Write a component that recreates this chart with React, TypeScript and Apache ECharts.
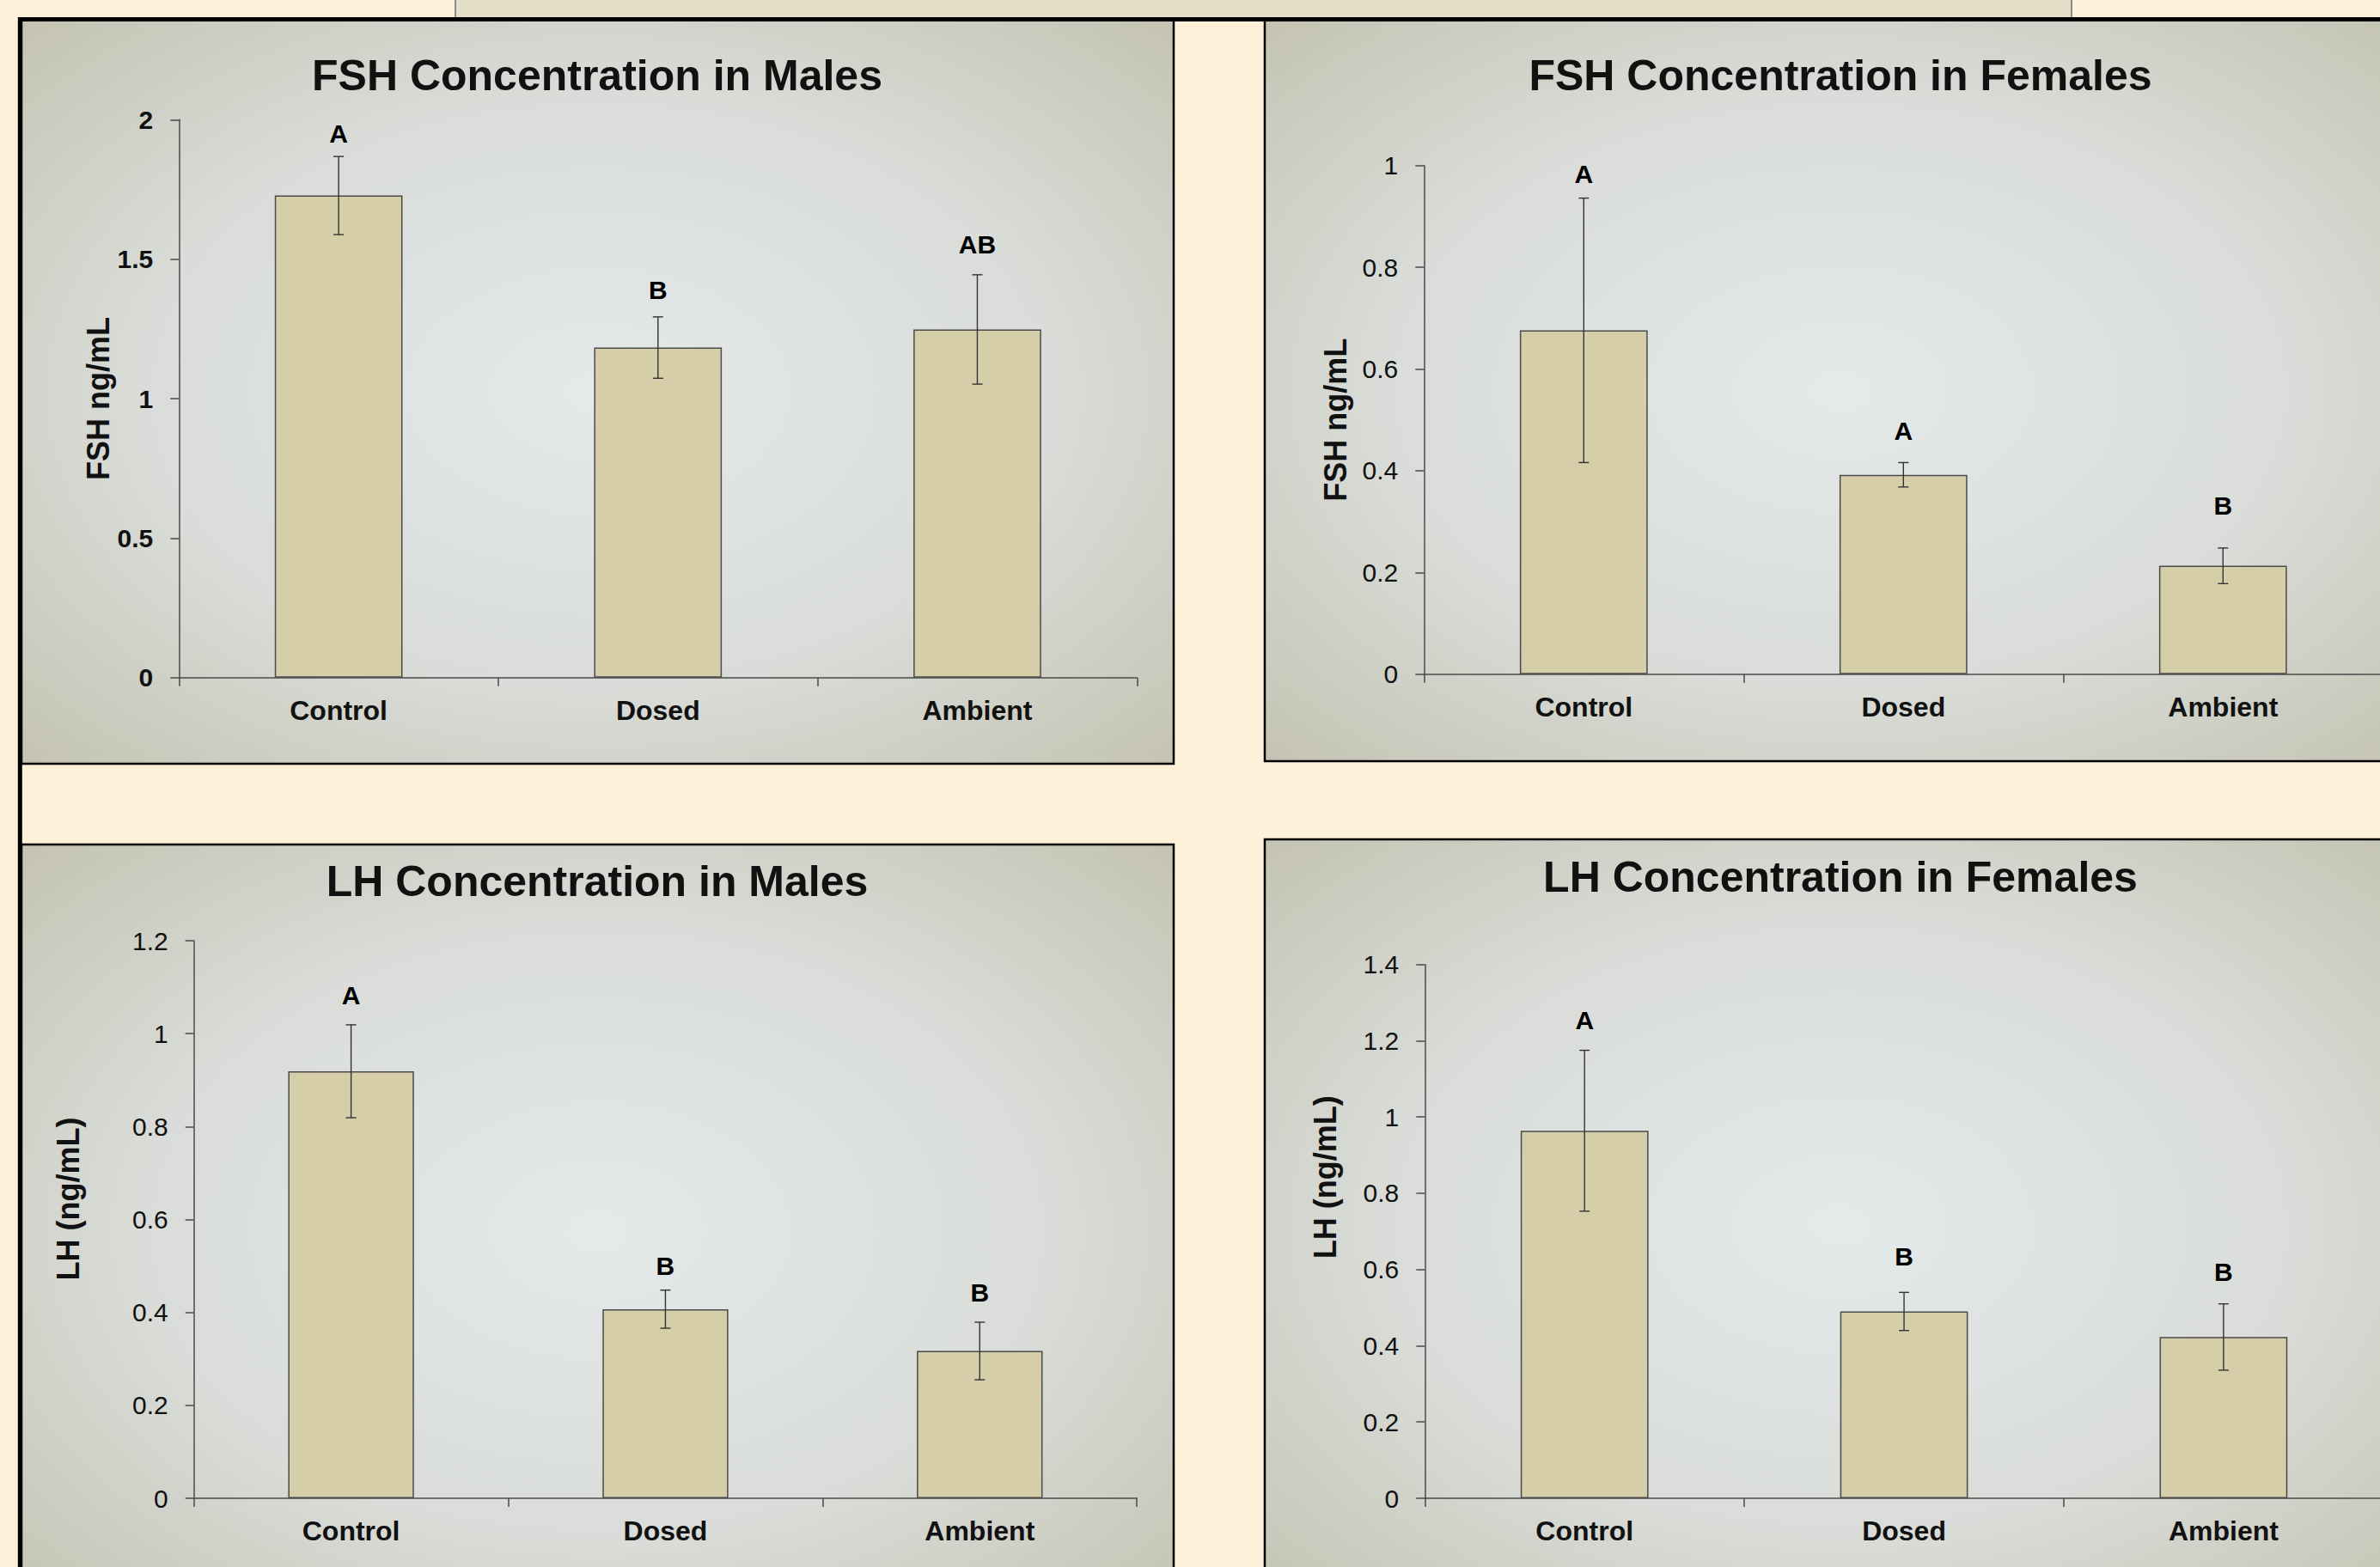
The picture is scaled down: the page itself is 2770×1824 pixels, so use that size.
import React, { useEffect, useRef } from "react";
import * as echarts from "echarts";

const categories = ["Control", "Dosed", "Ambient"];

const fshMaleMeans = [1.728, 1.183, 1.248];
const fshMaleErr = [0.14, 0.11, 0.196];
const fshMaleLetters = ["A", "B", "AB"];
const fshMaleLetterY = [1.949, 1.39, 1.553];

const fshFemaleMeans = [0.676, 0.392, 0.213];
const fshFemaleErr = [0.26, 0.024, 0.035];
const fshFemaleLetters = ["A", "A", "B"];
const fshFemaleLetterY = [0.983, 0.479, 0.332];

const lhMaleMeans = [0.919, 0.407, 0.317];
const lhMaleErr = [0.1, 0.041, 0.062];
const lhMaleLetters = ["A", "B", "B"];
const lhMaleLetterY = [1.082, 0.5, 0.442];

const lhFemaleMeans = [0.964, 0.49, 0.423];
const lhFemaleErr = [0.211, 0.05, 0.087];
const lhFemaleLetters = ["A", "B", "B"];
const lhFemaleLetterY = [1.255, 0.634, 0.594];

const titles = [
  "FSH Concentration in Males",
  "FSH Concentration in Females",
  "LH Concentration in Males",
  "LH Concentration in Females",
];
const yNames = ["FSH ng/mL", "FSH ng/mL", "LH (ng/mL)", "LH (ng/mL)"];
const yMax = [2, 1, 1.2, 1.4];
const yInterval = [0.5, 0.2, 0.2, 0.2];

const FONT = "'Liberation Sans', Arial, Helvetica, sans-serif";

export default function App() {
  const ref = useRef<HTMLDivElement>(null);

  useEffect(() => {
    if (!ref.current) return;
    const chart = echarts.init(ref.current, null, { renderer: "svg" });

    const panels = [
      { means: fshMaleMeans, err: fshMaleErr, letters: fshMaleLetters, ly: fshMaleLetterY },
      { means: fshFemaleMeans, err: fshFemaleErr, letters: fshFemaleLetters, ly: fshFemaleLetterY },
      { means: lhMaleMeans, err: lhMaleErr, letters: lhMaleLetters, ly: lhMaleLetterY },
      { means: lhFemaleMeans, err: lhFemaleErr, letters: lhFemaleLetters, ly: lhFemaleLetterY },
    ];

    const grids = [
      { left: 208.3, top: 139.3, width: 1115, height: 649.4 },
      { left: 1657.3, top: 192.7, width: 1116, height: 592 },
      { left: 225.7, top: 1095, width: 1097.5, height: 649 },
      { left: 1658.3, top: 1122.7, width: 1115.5, height: 621.3 },
    ];
    const titlePos = [
      [695, 88],
      [2142, 88],
      [695, 1026],
      [2142, 1021],
    ];
    const nameGaps = [70, 85, 128, 98];
    const namePadLeft = [0, 0, 48, 126];
    const boldTicks = [true, false, false, false];

    const panelFill = () => ({
      type: "radial",
      x: 0.5,
      y: 0.5,
      r: 0.72,
      colorStops: [
        { offset: 0, color: "#e4e9ea" },
        { offset: 0.55, color: "#d9dcd8" },
        { offset: 1, color: "#c3c2b1" },
      ],
    });

    const axisColor = "#4a4a4a";

    const series: any[] = [];
    panels.forEach((p, i) => {
      series.push({
        type: "bar",
        xAxisIndex: i,
        yAxisIndex: i,
        data: p.means,
        barWidth: "40%",
        itemStyle: { color: "#d6cea8", borderColor: "#4a4a4a", borderWidth: 1.5 },
        z: 2,
      });
      series.push({
        type: "custom",
        xAxisIndex: i,
        yAxisIndex: i,
        data: p.means.map((m, k) => [k, m - p.err[k], m + p.err[k]]),
        encode: { x: 0, y: [1, 2] },
        z: 3,
        renderItem: (params: any, api: any) => {
          const x = api.value(0);
          const lo = api.coord([x, api.value(1)]);
          const hi = api.coord([x, api.value(2)]);
          const w = 6;
          const style = { stroke: "#333333", lineWidth: 1.4 };
          return {
            type: "group",
            children: [
              { type: "line", shape: { x1: hi[0], y1: hi[1], x2: lo[0], y2: lo[1] }, style },
              { type: "line", shape: { x1: hi[0] - w, y1: hi[1], x2: hi[0] + w, y2: hi[1] }, style },
              { type: "line", shape: { x1: lo[0] - w, y1: lo[1], x2: lo[0] + w, y2: lo[1] }, style },
            ],
          };
        },
      });
      series.push({
        type: "scatter",
        xAxisIndex: i,
        yAxisIndex: i,
        symbolSize: 0,
        data: p.ly.map((v, k) => [k, v]),
        z: 4,
        itemStyle: { opacity: 1 },
        label: {
          show: true,
          position: "inside",
          formatter: (d: any) => p.letters[d.dataIndex],
          fontFamily: FONT,
          fontWeight: "bold",
          fontSize: 30,
          color: "#000000",
          opacity: 1,
          textBorderWidth: 0,
          textBorderColor: "transparent",
        },
      });
    });

    const option: any = {
      animation: false,
      backgroundColor: "#fff1d9",
      title: titles.map((t, i) => ({
        text: t,
        left: titlePos[i][0],
        top: titlePos[i][1] - 25,
        textAlign: "center",
        padding: 0,
        textStyle: { fontFamily: FONT, fontWeight: "bold", fontSize: 50, color: "#111111" },
      })),
      grid: grids.map((g) => ({ ...g, containLabel: false, outerBoundsMode: "none" })),
      xAxis: grids.map((g, i) => ({
        type: "category",
        gridIndex: i,
        data: categories,
        boundaryGap: true,
        axisLine: { show: true, lineStyle: { color: axisColor, width: 1.5 } },
        axisTick: { show: true, length: 10, lineStyle: { color: axisColor, width: 1.5 } },
        axisLabel: {
          margin: 22,
          fontFamily: FONT,
          fontWeight: "bold",
          fontSize: 32,
          color: "#111111",
        },
        splitLine: { show: false },
      })),
      yAxis: grids.map((g, i) => ({
        type: "value",
        gridIndex: i,
        min: 0,
        max: yMax[i],
        interval: yInterval[i],
        name: yNames[i],
        nameLocation: "middle",
        nameGap: nameGaps[i],
        nameTextStyle: {
          fontFamily: FONT,
          fontWeight: "bold",
          fontSize: 36,
          color: "#111111",
          padding: [0, 0, 0, namePadLeft[i]],
        },
        axisLine: { show: true, lineStyle: { color: axisColor, width: 1.5 } },
        axisTick: { show: true, length: 10, lineStyle: { color: axisColor, width: 1.5 } },
        axisLabel: {
          margin: 30,
          fontFamily: FONT,
          fontWeight: boldTicks[i] ? "bold" : "normal",
          fontSize: 30,
          color: "#111111",
          formatter: (v: number) => String(Math.round(v * 10) / 10),
        },
        splitLine: { show: false },
      })),
      graphic: [
        {
          type: "rect",
          z: -10,
          shape: { x: 530, y: -5, width: 1881, height: 26 },
          style: { fill: "#e2dec8", stroke: "#8a8a8a", lineWidth: 2 },
        },
        {
          type: "rect",
          z: -9,
          shape: { x: 25, y: 23, width: 1341, height: 866 },
          style: { fill: panelFill(), stroke: "#000000", lineWidth: 2.5 },
        },
        {
          type: "rect",
          z: -9,
          shape: { x: 1472, y: 23, width: 1341, height: 863 },
          style: { fill: panelFill(), stroke: "#000000", lineWidth: 2.5 },
        },
        {
          type: "rect",
          z: -9,
          shape: { x: 25, y: 983, width: 1341, height: 900 },
          style: { fill: panelFill(), stroke: "#000000", lineWidth: 2.5 },
        },
        {
          type: "rect",
          z: -9,
          shape: { x: 1472, y: 977, width: 1341, height: 900 },
          style: { fill: panelFill(), stroke: "#000000", lineWidth: 2.5 },
        },
        {
          type: "line",
          z: -8,
          shape: { x1: 21, y1: 22.5, x2: 2770, y2: 22.5 },
          style: { stroke: "#000000", lineWidth: 5 },
        },
        {
          type: "line",
          z: -8,
          shape: { x1: 23.3, y1: 20, x2: 23.3, y2: 1824 },
          style: { stroke: "#000000", lineWidth: 5 },
        },
      ],
      series,
    };

    chart.setOption(option);
    return () => chart.dispose();
  }, []);

  return (
    <div
      ref={ref}
      style={{ position: "fixed", left: 0, top: 0, width: 2770, height: 1824 }}
    />
  );
}
